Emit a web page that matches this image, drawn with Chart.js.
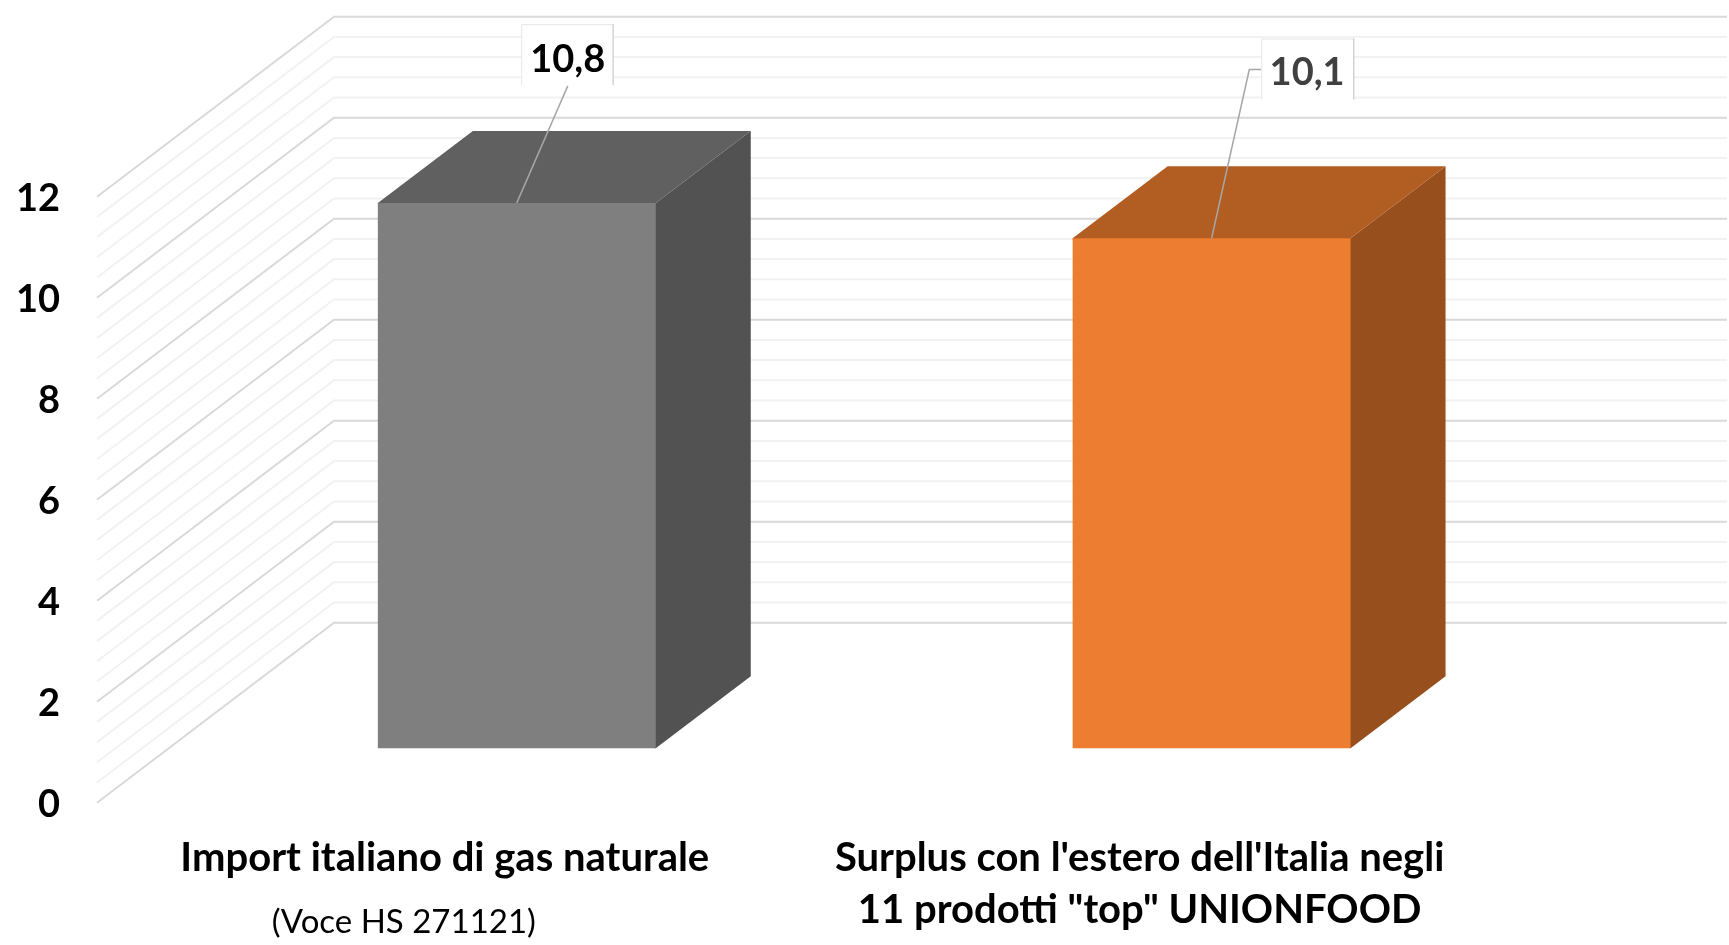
<!DOCTYPE html>
<html lang="it">
<head>
<meta charset="utf-8">
<title>Import di gas e surplus UNIONFOOD</title>
<script src="https://cdn.jsdelivr.net/npm/chart.js@4"></script>
<style>
html,body{margin:0;padding:0;background:#fff;}
canvas{display:block;}
</style>
</head>
<body>
<canvas id="c" width="1729" height="945"></canvas>
<script>
const categories = [
  ['Import italiano di gas naturale'],
  ["Surplus con l'estero dell'Italia negli", '11 prodotti "top" UNIONFOOD']
];
const categoryNotes = ['(Voce HS 271121)', ''];
const values = [10.8, 10.1];
const frontColors = ['#7f7f7f', '#ed7d31'];
const topColors = ['#606060', '#b25d22'];
const sideColors = ['#525252', '#974f1e'];
const labelColors = ['#000000', '#404040'];
const yMax = 12;
const yMajorStep = 2;
const yMinorStep = 0.4;

/* geometry of the pseudo-3D box, px */
const AXIS_BOTTOM = 802.7, AXIS_TOP = 196.7;
const PLOT_LEFT = 169.4, PLOT_RIGHT = 1559;
const WALL_FRONT_X = 97, WALL_BACK_DX = 237, WALL_BACK_DY = -180;
const WALL_RIGHT = 1727;
const BAR_DX = 95, BAR_DY = -72;
const BAR_BASE_RAISE = 54.4;
const unitPx = (AXIS_BOTTOM - AXIS_TOP) / yMax;
const barShift = BAR_BASE_RAISE / unitPx;

/* label boxes, relative to the top-centre of each bar front */
const labelBoxes = [
  {l: 4.4, r: 96.8, t: -178.7, b: -117.7, tx: 51, ty: -143.5, path: [[51, -117]]},
  {l: 49.7, r: 142.7, t: -199.7, b: -138.7, tx: 95.5, ty: -166, path: [[37.7, -168.7], [49.7, -168.7]]}
];

const FONT = 'Lato, Carlito, Calibri, sans-serif';

function poly(ctx, pts, fill) {
  ctx.beginPath();
  pts.forEach((p, i) => i ? ctx.lineTo(p[0], p[1]) : ctx.moveTo(p[0], p[1]));
  ctx.closePath();
  ctx.fillStyle = fill;
  ctx.fill();
}

const walls = {
  id: 'walls',
  beforeDatasetsDraw(chart) {
    const {ctx, scales: {y}} = chart;
    const n = Math.round(yMax / yMinorStep);
    const majorEvery = Math.round(yMajorStep / yMinorStep);
    ctx.save();
    ctx.lineCap = 'butt';
    // minor first so that major lines stay on top
    for (const pass of [0, 1]) {
      for (let i = 0; i <= n; i++) {
        const major = i % majorEvery === 0;
        if (major !== (pass === 1)) continue;
        const py = y.getPixelForValue(i * yMinorStep);
        ctx.beginPath();
        ctx.moveTo(WALL_FRONT_X, py);
        ctx.lineTo(WALL_FRONT_X + WALL_BACK_DX, py + WALL_BACK_DY);
        ctx.lineTo(WALL_RIGHT, py + WALL_BACK_DY);
        ctx.strokeStyle = major ? '#d9d9d9' : '#f2f2f2';
        ctx.lineWidth = 2;
        ctx.stroke();
      }
    }
    // bar side and top faces; they run slightly under the front face to avoid a seam
    const meta = chart.getDatasetMeta(0);
    meta.data.forEach((bar, i) => {
      const half = bar.width / 2;
      const L = bar.x - half, R = bar.x + half;
      const T = bar.y, B = bar.base;
      poly(ctx, [[R - 1, T], [R, T], [R + BAR_DX, T + BAR_DY], [R + BAR_DX, B + BAR_DY], [R, B], [R - 1, B]], sideColors[i]);
      poly(ctx, [[L, T], [L + BAR_DX, T + BAR_DY], [R + BAR_DX, T + BAR_DY], [R, T], [R, T + 1], [L, T + 1]], topColors[i]);
    });
    ctx.restore();
  },
  afterDatasetsDraw(chart) {
    const {ctx, scales: {x}} = chart;
    const meta = chart.getDatasetMeta(0);
    ctx.save();
    meta.data.forEach((bar, i) => {
      const b = labelBoxes[i];
      // leader line
      ctx.beginPath();
      ctx.moveTo(bar.x, bar.y);
      b.path.forEach(p => ctx.lineTo(bar.x + p[0], bar.y + p[1]));
      ctx.strokeStyle = '#a6a6a6';
      ctx.lineWidth = 1.5;
      ctx.stroke();
      // box
      const l = bar.x + b.l, r = bar.x + b.r, t = bar.y + b.t, bo = bar.y + b.b;
      ctx.fillStyle = '#ffffff';
      ctx.fillRect(l, t, r - l, bo - t);
      ctx.lineWidth = 1;
      ctx.strokeStyle = '#e6e6e6';
      ctx.beginPath();
      ctx.moveTo(l + .5, bo); ctx.lineTo(l + .5, t + .5); ctx.lineTo(r, t + .5);
      ctx.stroke();
      ctx.strokeStyle = '#bfbfbf';
      ctx.beginPath();
      ctx.moveTo(r - .5, t); ctx.lineTo(r - .5, bo);
      ctx.stroke();
      // value
      ctx.fillStyle = labelColors[i];
      ctx.font = 'bold 38px ' + FONT;
      ctx.textAlign = 'center';
      ctx.textBaseline = 'middle';
      ctx.fillText(values[i].toFixed(1).replace('.', ','), bar.x + b.tx, bar.y + b.ty);
    });
    // non-bold note under the first category
    categoryNotes.forEach((note, i) => {
      if (!note) return;
      ctx.fillStyle = '#000000';
      ctx.font = '33px ' + FONT;
      ctx.textAlign = 'center';
      ctx.textBaseline = 'middle';
      ctx.fillText(note, x.getPixelForTick(i) - 113, 922);
    });
    ctx.restore();
  }
};

new Chart(document.getElementById('c'), {
  type: 'bar',
  data: {
    labels: categories,
    datasets: [{
      data: values,
      yAxisID: 'bars',
      backgroundColor: frontColors,
      borderWidth: 0,
      barPercentage: 0.4,
      categoryPercentage: 1
    }]
  },
  options: {
    responsive: false,
    animation: false,
    events: [],
    layout: {padding: {top: AXIS_TOP, right: 1729 - PLOT_RIGHT, left: 0, bottom: 0}},
    plugins: {legend: {display: false}, tooltip: {enabled: false}, title: {display: false}},
    scales: {
      x: {
        type: 'category',
        afterFit(s) { s.height = 945 - AXIS_BOTTOM; },
        grid: {display: false, drawTicks: false},
        border: {display: false},
        ticks: {
          autoSkip: false, maxRotation: 0, minRotation: 0,
          labelOffset: -72,
          padding: 29,
          color: '#000000',
          font: {family: FONT, size: 40, weight: 'bold', lineHeight: 52 / 40}
        }
      },
      y: {
        type: 'linear',
        position: 'left',
        min: 0, max: yMax,
        afterFit(s) { s.width = PLOT_LEFT; },
        grid: {display: false, drawTicks: false},
        border: {display: false},
        ticks: {
          stepSize: yMajorStep,
          padding: PLOT_LEFT - 60,
          labelOffset: 2,
          color: '#000000',
          font: {family: FONT, size: 38, weight: 'bold'}
        }
      },
      bars: {
        type: 'linear',
        display: false,
        min: -barShift,
        max: yMax - barShift
      }
    }
  },
  plugins: [walls]
});
</script>
</body>
</html>
